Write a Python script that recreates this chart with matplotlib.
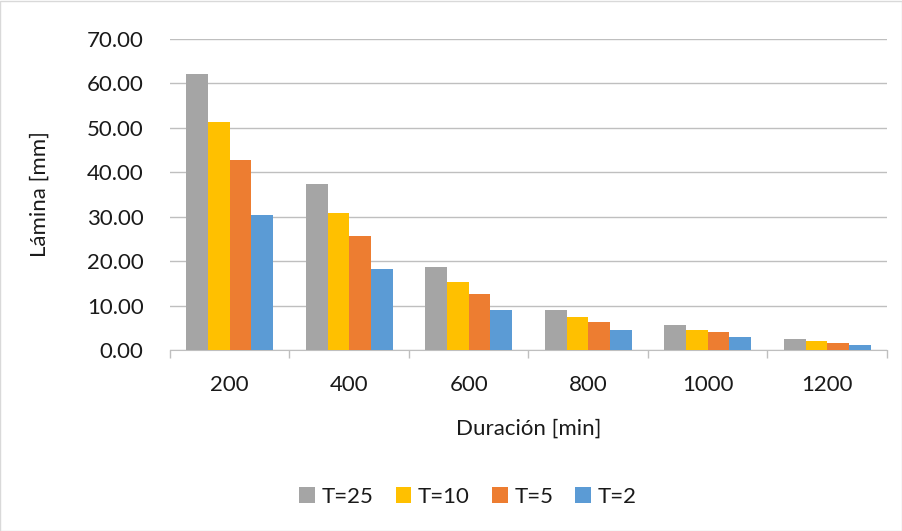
import matplotlib
matplotlib.use("Agg")
import matplotlib.pyplot as plt
from matplotlib.patches import Rectangle
import numpy as np

plt.rcParams['font.family'] = ['Lato', 'DejaVu Sans']

durations = ["200", "400", "600", "800", "1000", "1200"]
series_names = ["T=25", "T=10", "T=5", "T=2"]
t25 = [62.2, 37.4, 18.6, 9.1, 5.7, 2.4]
t10 = [51.3, 30.8, 15.3, 7.4, 4.6, 1.95]
t5 = [42.8, 25.6, 12.7, 6.2, 4.0, 1.65]
t2 = [30.4, 18.2, 9.0, 4.4, 2.85, 1.1]
colors = ["#A5A5A5", "#FFC000", "#ED7D31", "#5B9BD5"]

fs = 16
fig = plt.figure(figsize=(9.03, 5.31), dpi=100)
ax = fig.add_axes([170/903, 1-350/531, (887-170)/903, (350-39)/531])

x = np.arange(len(durations))
bw = 1/5.5
for i, (vals, name, c) in enumerate(zip([t25, t10, t5, t2], series_names, colors)):
    ax.bar(x + (i - 1.5)*bw, vals, width=bw, color=c, label=name, zorder=3)

ax.set_xlim(-0.5, len(durations)-0.5)
ax.set_ylim(0, 70)
ax.set_yticks(np.arange(0, 71, 10))
ax.set_yticklabels([f"{v:.2f}" for v in np.arange(0, 71, 10)], fontsize=fs, color="#1a1a1a")
ax.yaxis.grid(True, color="#BFBFBF", linewidth=1, zorder=0)
ax.tick_params(axis='y', length=0, pad=19)

ax.set_xticks(x)
ax.set_xticklabels(durations, fontsize=fs, color="#1a1a1a")
ax.tick_params(axis='x', length=0, pad=18)
ax.set_xticks(np.arange(-0.5, len(durations)), minor=True)
ax.tick_params(axis='x', which='minor', length=6, color="#BFBFBF", width=1)

for s in ['top', 'right', 'left']:
    ax.spines[s].set_visible(False)
ax.spines['bottom'].set_color("#BFBFBF")

ax.set_xlabel("Duración [min]", fontsize=fs, labelpad=17, color="#1a1a1a")
ax.set_ylabel("Lámina [mm]", fontsize=fs, labelpad=27, color="#1a1a1a")

fig.legend(loc='center', bbox_to_anchor=(468/903, 1-497/531), ncol=4, frameon=False,
           fontsize=fs, handlelength=0.7, handleheight=0.7, handletextpad=0.3,
           columnspacing=1.0, labelcolor="#1a1a1a")

fig.patches.append(Rectangle((0.5/903, 0.5/531), 1-1/903, 1-1/531, transform=fig.transFigure,
                             fill=False, edgecolor="#D9D9D9", linewidth=1))

fig.savefig("out.png", dpi=100)
